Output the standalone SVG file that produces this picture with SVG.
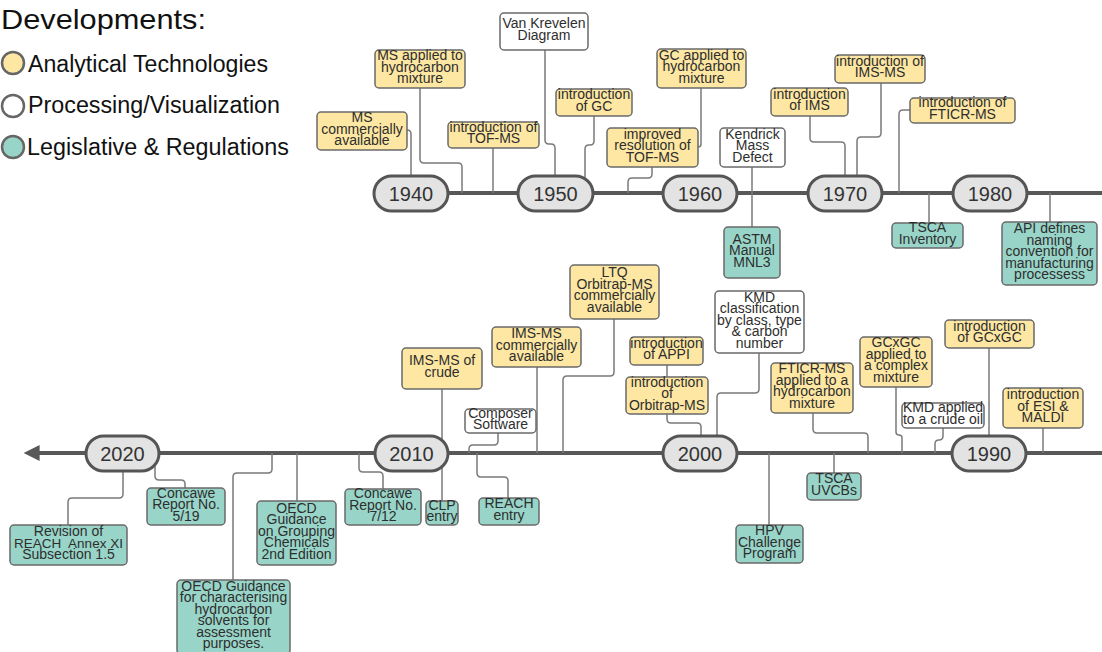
<svg xmlns="http://www.w3.org/2000/svg" width="1102" height="652" viewBox="0 0 1102 652">
<style>
.y{fill:#fde7a2;stroke:#6a6a6a;stroke-width:1.5}
.w{fill:#ffffff;stroke:#6a6a6a;stroke-width:1.5}
.t{fill:#98d5c8;stroke:#6a6a6a;stroke-width:1.5}
.pill{fill:#e3e3e3;stroke:#555;stroke-width:3}
.lbl{font-family:"Liberation Sans",Arial,sans-serif;font-size:14px;fill:#2e2e2e;text-anchor:middle}
.yr{font-family:"Liberation Sans",Arial,sans-serif;font-size:20px;fill:#333;text-anchor:middle}
.leg{font-family:"Liberation Sans",Arial,sans-serif;fill:#111}
.conn path{fill:none;stroke:#7a7a7a;stroke-width:1.5}
.axis{fill:none;stroke:#585858;stroke-width:4}
</style>
<defs>
<marker id="arr" viewBox="0 0 10 10" refX="1" refY="5" markerWidth="6" markerHeight="4" orient="auto-start-reverse" markerUnits="strokeWidth">
<path d="M0,0 L10,5 L0,10 z" fill="#585858"/>
</marker>
</defs>

<g id="legend">
<text class="leg" x="1" y="29" font-size="28" textLength="205" lengthAdjust="spacingAndGlyphs">Developments:</text>
<circle cx="13" cy="63" r="11" fill="#fde7a2" stroke="#666" stroke-width="2.5"/>
<circle cx="13" cy="106" r="11" fill="#fff" stroke="#666" stroke-width="2.5"/>
<circle cx="13" cy="147" r="11" fill="#98d5c8" stroke="#666" stroke-width="2.5"/>
<text class="leg" x="28" y="72" font-size="23" textLength="240" lengthAdjust="spacingAndGlyphs">Analytical Technologies</text>
<text class="leg" x="28" y="113" font-size="23" textLength="252" lengthAdjust="spacingAndGlyphs">Processing/Visualization</text>
<text class="leg" x="27" y="155" font-size="23" textLength="262" lengthAdjust="spacingAndGlyphs">Legislative &amp; Regulations</text>
</g>

<g id="axes">
<path class="axis" d="M411 193 H1102"/>
<path class="axis" d="M1102 453 H38" marker-end="url(#arr)"/>
</g>

<g class="conn" id="connectors">
<path d="M407 130 Q411 130 411 134 V176"/>
<path d="M420 88 V159 Q420 163 424 163 H458 Q462 163 462 167 V193"/>
<path d="M493 148 V193"/>
<path d="M545 50 V140 Q545 144 549 144 H551 Q555 144 555 148 V176"/>
<path d="M594 116 V141 Q594 145 590 145 H589 Q585 145 585 149 V178"/>
<path d="M652 167 V174 Q652 178 648 178 H632 Q628 178 628 182 V193"/>
<path d="M701 88 V144 Q701 147 698 147"/>
<path d="M752 167 V227"/>
<path d="M810 116 V138 Q810 142 814 142 H841 Q845 142 845 146 V176"/>
<path d="M881 83 V133 Q881 137 877 137 H861 Q857 137 857 141 V176"/>
<path d="M910 110 H903 Q899 110 899 114 V193"/>
<path d="M929 193 V223"/>
<path d="M1050 193 V222"/>
<path d="M123 471 V494 Q123 498 119 498 H72 Q68 498 68 502 V525"/>
<path d="M155 464 V476 Q155 480 159 480 H181 Q185 480 185 484 V488"/>
<path d="M233 580 V477 Q233 473 237 473 H268 Q272 473 272 469 V453"/>
<path d="M297 453 V501"/>
<path d="M359 453 V468 Q359 472 363 472 H379 Q383 472 383 476 V489"/>
<path d="M442 389 V501"/>
<path d="M498 433 V441 Q498 445 494 445 H473 Q469 445 469 449 V453"/>
<path d="M477 453 V473 Q477 477 481 477 H504 Q508 477 508 481 V498"/>
<path d="M537 367 V453"/>
<path d="M614 319 V372 Q614 376 610 376 H567 Q563 376 563 380 V453"/>
<path d="M667 365 V377"/>
<path d="M667 414 V419 Q667 423 671 423 H697 Q701 423 701 427 V436"/>
<path d="M759 353 V389 Q759 393 755 393 H721 Q717 393 717 397 V436"/>
<path d="M813 413 V429 Q813 433 817 433 H864 Q868 433 868 437 V453"/>
<path d="M834 453 V473"/>
<path d="M769 453 V525"/>
<path d="M896 387 V432 Q896 435 899 435 Q902 435 902 438 V453"/>
<path d="M943 428 V436 Q943 440 939 440 Q935 440 935 444 V453"/>
<path d="M989 348 V436"/>
<path d="M1043 428 V453"/>
</g>

<g id="y1940"><rect class="pill" x="374" y="176" width="74" height="35" rx="17.5"/><text class="yr" x="411" y="200.5">1940</text></g>
<g id="y1950"><rect class="pill" x="518" y="176" width="75" height="35" rx="17.5"/><text class="yr" x="555.5" y="200.5">1950</text></g>
<g id="y1960"><rect class="pill" x="663" y="176" width="74" height="35" rx="17.5"/><text class="yr" x="700" y="200.5">1960</text></g>
<g id="y1970"><rect class="pill" x="808" y="176" width="74" height="35" rx="17.5"/><text class="yr" x="845" y="200.5">1970</text></g>
<g id="y1980"><rect class="pill" x="953" y="176" width="74" height="35" rx="17.5"/><text class="yr" x="990" y="200.5">1980</text></g>
<g id="y2020"><rect class="pill" x="86" y="436" width="73" height="35" rx="17.5"/><text class="yr" x="122.5" y="460.5">2020</text></g>
<g id="y2010"><rect class="pill" x="375" y="436" width="73" height="35" rx="17.5"/><text class="yr" x="411.5" y="460.5">2010</text></g>
<g id="y2000"><rect class="pill" x="663" y="436" width="74" height="35" rx="17.5"/><text class="yr" x="700" y="460.5">2000</text></g>
<g id="y1990"><rect class="pill" x="952" y="436" width="74" height="35" rx="17.5"/><text class="yr" x="989" y="460.5">1990</text></g>

<g id="n1"><rect class="y" x="317" y="112" width="90" height="38" rx="4"/><text class="lbl" y="122"><tspan x="362">MS</tspan><tspan x="362" dy="11.5">commercially</tspan><tspan x="362" dy="11.5">available</tspan></text></g>
<g id="n2"><rect class="y" x="375" y="50" width="90" height="38" rx="4"/><text class="lbl" y="60"><tspan x="420">MS applied to</tspan><tspan x="420" dy="11.5">hydrocarbon</tspan><tspan x="420" dy="11.5">mixture</tspan></text></g>
<g id="n3"><rect class="y" x="448" y="122" width="91" height="26" rx="4"/><text class="lbl" y="131.75"><tspan x="493.5">introduction of</tspan><tspan x="493.5" dy="11.5">TOF-MS</tspan></text></g>
<g id="n4"><rect class="w" x="500" y="13" width="88" height="37" rx="4"/><text class="lbl" y="28.25"><tspan x="544">Van Krevelen</tspan><tspan x="544" dy="11.5">Diagram</tspan></text></g>
<g id="n5"><rect class="y" x="556" y="89" width="76" height="27" rx="4"/><text class="lbl" y="99.25"><tspan x="594">introduction</tspan><tspan x="594" dy="11.5">of GC</tspan></text></g>
<g id="n6"><rect class="y" x="607" y="128" width="91" height="39" rx="4"/><text class="lbl" y="138.5"><tspan x="652.5">improved</tspan><tspan x="652.5" dy="11.5">resolution of</tspan><tspan x="652.5" dy="11.5">TOF-MS</tspan></text></g>
<g id="n7"><rect class="y" x="657" y="49" width="89" height="39" rx="4"/><text class="lbl" y="59.5"><tspan x="701.5">GC applied to</tspan><tspan x="701.5" dy="11.5">hydrocarbon</tspan><tspan x="701.5" dy="11.5">mixture</tspan></text></g>
<g id="n8"><rect class="w" x="720" y="128" width="65" height="39" rx="4"/><text class="lbl" y="138.5"><tspan x="752.5">Kendrick</tspan><tspan x="752.5" dy="11.5">Mass</tspan><tspan x="752.5" dy="11.5">Defect</tspan></text></g>
<g id="n9"><rect class="t" x="724" y="227" width="56" height="51" rx="4"/><text class="lbl" y="243.5"><tspan x="752">ASTM</tspan><tspan x="752" dy="11.5">Manual</tspan><tspan x="752" dy="11.5">MNL3</tspan></text></g>
<g id="n10"><rect class="y" x="771" y="88" width="77" height="28" rx="4"/><text class="lbl" y="98.75"><tspan x="809.5">introduction</tspan><tspan x="809.5" dy="11.5">of IMS</tspan></text></g>
<g id="n11"><rect class="y" x="835" y="55" width="90" height="28" rx="4"/><text class="lbl" y="65.75"><tspan x="880">introduction of</tspan><tspan x="880" dy="11.5">IMS-MS</tspan></text></g>
<g id="n12"><rect class="y" x="910" y="98" width="105" height="25" rx="4"/><text class="lbl" y="107.25"><tspan x="962.5">introduction of</tspan><tspan x="962.5" dy="11.5">FTICR-MS</tspan></text></g>
<g id="n13"><rect class="t" x="892" y="223" width="71" height="25" rx="4"/><text class="lbl" y="232.25"><tspan x="927.5">TSCA</tspan><tspan x="927.5" dy="11.5">Inventory</tspan></text></g>
<g id="n14"><rect class="t" x="1002" y="222" width="95" height="63" rx="4"/><text class="lbl" y="233"><tspan x="1049.5">API defines</tspan><tspan x="1049.5" dy="11.5">naming</tspan><tspan x="1049.5" dy="11.5">convention for</tspan><tspan x="1049.5" dy="11.5">manufacturing</tspan><tspan x="1049.5" dy="11.5">processess</tspan></text></g>

<g id="n15"><rect class="t" x="10" y="525" width="117" height="40" rx="4"/><text class="lbl" y="536" style="white-space:pre"><tspan x="68.5">Revision of</tspan><tspan x="68.5" dy="11.5" font-size="13.5">REACH  Annex XI</tspan><tspan x="68.5" dy="11.5">Subsection 1.5</tspan></text></g>
<g id="n16"><rect class="t" x="147" y="488" width="78" height="37" rx="4"/><text class="lbl" y="497.5"><tspan x="186">Concawe</tspan><tspan x="186" dy="11.5">Report No.</tspan><tspan x="186" dy="11.5">5/19</tspan></text></g>
<g id="n17"><rect class="t" x="177" y="580" width="113" height="74" rx="4"/><text class="lbl" y="590.5"><tspan x="233.5">OECD Guidance</tspan><tspan x="233.5" dy="11.5">for characterising</tspan><tspan x="233.5" dy="11.5">hydrocarbon</tspan><tspan x="233.5" dy="11.5">solvents for</tspan><tspan x="233.5" dy="11.5">assessment</tspan><tspan x="233.5" dy="11.5">purposes.</tspan></text></g>
<g id="n18"><rect class="t" x="257" y="501" width="79" height="64" rx="4"/><text class="lbl" y="512.5"><tspan x="296.5">OECD</tspan><tspan x="296.5" dy="11.5">Guidance</tspan><tspan x="296.5" dy="11.5">on Grouping</tspan><tspan x="296.5" dy="11.5">Chemicals</tspan><tspan x="296.5" dy="11.5">2nd Edition</tspan></text></g>
<g id="n19"><rect class="t" x="345" y="489" width="76" height="36" rx="4"/><text class="lbl" y="498"><tspan x="383">Concawe</tspan><tspan x="383" dy="11.5">Report No.</tspan><tspan x="383" dy="11.5">7/12</tspan></text></g>
<g id="n20"><rect class="t" x="426" y="501" width="32" height="24" rx="4"/><text class="lbl" y="509.75"><tspan x="442">CLP</tspan><tspan x="442" dy="11.5">entry</tspan></text></g>
<g id="n21"><rect class="y" x="402" y="348" width="80" height="41" rx="4"/><text class="lbl" y="365.25"><tspan x="442">IMS-MS of</tspan><tspan x="442" dy="11.5">crude</tspan></text></g>
<g id="n22"><rect class="w" x="465" y="409" width="71" height="24" rx="4"/><text class="lbl" y="417.75"><tspan x="500.5">Composer</tspan><tspan x="500.5" dy="11.5">Software</tspan></text></g>
<g id="n23"><rect class="t" x="479" y="498" width="60" height="27" rx="4"/><text class="lbl" y="508.25"><tspan x="509">REACH</tspan><tspan x="509" dy="11.5">entry</tspan></text></g>
<g id="n24"><rect class="y" x="492" y="327" width="89" height="40" rx="4"/><text class="lbl" y="338"><tspan x="536.5">IMS-MS</tspan><tspan x="536.5" dy="11.5">commercially</tspan><tspan x="536.5" dy="11.5">available</tspan></text></g>
<g id="n25"><rect class="y" x="570" y="265" width="89" height="54" rx="4"/><text class="lbl" y="277.25"><tspan x="614.5">LTQ</tspan><tspan x="614.5" dy="11.5">Orbitrap-MS</tspan><tspan x="614.5" dy="11.5">commercially</tspan><tspan x="614.5" dy="11.5">available</tspan></text></g>
<g id="n26"><rect class="y" x="630" y="337" width="73" height="28" rx="4"/><text class="lbl" y="347.75"><tspan x="666.5">introduction</tspan><tspan x="666.5" dy="11.5">of APPI</tspan></text></g>
<g id="n27"><rect class="y" x="626" y="377" width="82" height="37" rx="4"/><text class="lbl" y="386.5"><tspan x="667">introduction</tspan><tspan x="667" dy="11.5">of</tspan><tspan x="667" dy="11.5">Orbitrap-MS</tspan></text></g>
<g id="n28"><rect class="w" x="715" y="291" width="89" height="62" rx="4"/><text class="lbl" y="301.5"><tspan x="759.5">KMD</tspan><tspan x="759.5" dy="11.5">classification</tspan><tspan x="759.5" dy="11.5">by class, type</tspan><tspan x="759.5" dy="11.5">&amp; carbon</tspan><tspan x="759.5" dy="11.5">number</tspan></text></g>
<g id="n29"><rect class="y" x="771" y="363" width="82" height="50" rx="4"/><text class="lbl" y="373.25"><tspan x="812">FTICR-MS</tspan><tspan x="812" dy="11.5">applied to a</tspan><tspan x="812" dy="11.5">hydrocarbon</tspan><tspan x="812" dy="11.5">mixture</tspan></text></g>
<g id="n30"><rect class="t" x="807" y="473" width="54" height="27" rx="4"/><text class="lbl" y="483.25"><tspan x="834">TSCA</tspan><tspan x="834" dy="11.5">UVCBs</tspan></text></g>
<g id="n31"><rect class="t" x="736" y="525" width="67" height="38" rx="4"/><text class="lbl" y="535"><tspan x="769.5">HPV</tspan><tspan x="769.5" dy="11.5">Challenge</tspan><tspan x="769.5" dy="11.5">Program</tspan></text></g>
<g id="n32"><rect class="y" x="860" y="337" width="72" height="50" rx="4"/><text class="lbl" y="347.25"><tspan x="896">GCxGC</tspan><tspan x="896" dy="11.5">applied to</tspan><tspan x="896" dy="11.5">a complex</tspan><tspan x="896" dy="11.5">mixture</tspan></text></g>
<g id="n33"><rect class="w" x="902" y="403" width="82" height="25" rx="4"/><text class="lbl" y="412.25"><tspan x="943">KMD applied</tspan><tspan x="943" dy="11.5">to a crude oil</tspan></text></g>
<g id="n34"><rect class="y" x="945" y="320" width="89" height="28" rx="4"/><text class="lbl" y="330.75"><tspan x="989.5">introduction</tspan><tspan x="989.5" dy="11.5">of GCxGC</tspan></text></g>
<g id="n35"><rect class="y" x="1003" y="388" width="80" height="40" rx="4"/><text class="lbl" y="399"><tspan x="1043">introduction</tspan><tspan x="1043" dy="11.5">of ESI &amp;</tspan><tspan x="1043" dy="11.5">MALDI</tspan></text></g>
</svg>
